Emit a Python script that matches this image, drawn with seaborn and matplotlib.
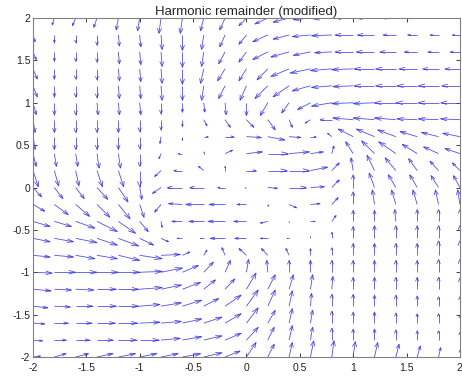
import numpy as np
import matplotlib
matplotlib.use("Agg")
import matplotlib.pyplot as plt
from matplotlib.collections import LineCollection
import seaborn as sns

# grid of arrow tails
x_vals = [-2.0, -1.8, -1.6, -1.4, -1.2, -1.0, -0.8, -0.6, -0.4, -0.2, 0.0,
          0.2, 0.4, 0.6, 0.8, 1.0, 1.2, 1.4, 1.6, 1.8, 2.0]
y_vals = [2.0, 1.8, 1.6, 1.4, 1.2, 1.0, 0.8, 0.6, 0.4, 0.2, 0.0,
          -0.2, -0.4, -0.6, -0.8, -1.0, -1.2, -1.4, -1.6, -1.8, -2.0]

# arrow components (data units), one row per y value, top row first
u_rows = [
    [0, -.02, -.03, -.03, -.02, -.02, -.02, -.02, -.03, -.05, -.07, -.12, -.15, -.16, -.17, -.17, -.17, -.13, -.10, -.08, -.07],
    [.02, 0, 0, 0, .01, .01, .01, 0, -.02, -.05, -.07, -.14, -.15, -.17, -.19, -.17, -.16, -.12, -.09, -.08, -.07],
    [.03, 0, 0, 0, .01, .01, .01, 0, -.02, -.06, -.07, -.14, -.17, -.16, -.16, -.17, -.17, -.15, -.12, -.10, -.09],
    [.04, 0, 0, 0, .01, .01, .01, 0, -.03, -.07, -.07, -.10, -.17, -.19, -.20, -.20, -.19, -.19, -.17, -.15, -.14],
    [.04, 0, 0, 0, .01, .01, .01, 0, -.02, -.06, -.06, -.12, -.15, -.17, -.19, -.19, -.19, -.19, -.19, -.19, -.17],
    [.03, 0, 0, .01, .01, .01, 0, 0, .01, .01, 0, -.07, -.07, -.12, -.19, -.20, -.20, -.20, -.20, -.19, -.18],
    [.02, 0, 0, 0, 0, 0, 0, 0, .03, .05, .07, .07, .03, -.05, -.11, -.19, -.20, -.20, -.19, -.19, -.18],
    [.02, 0, 0, 0, 0, 0, -.01, 0, .04, .08, .14, .16, .11, .05, -.04, -.14, -.17, -.17, -.16, -.16, -.16],
    [.03, .02, .02, .02, .02, 0, -.02, -.04, 0, .07, .15, .19, .19, .12, .02, -.07, -.12, -.16, -.14, -.14, -.14],
    [.05, .04, .03, .05, .05, 0, -.06, -.08, -.05, 0, .09, .18, .19, .16, .07, -.02, -.07, -.10, -.08, -.08, -.07],
    [.08, .08, .08, .10, .09, .02, -.08, -.14, -.13, -.07, -.01, .09, .16, .13, .07, 0, -.05, -.07, -.07, -.07, -.06],
    [.11, .13, .13, .12, .11, .04, -.06, -.13, -.17, -.15, -.09, 0, .07, .09, .06, 0, -.02, -.04, -.04, -.03, -.02],
    [.16, .16, .18, .19, .16, .08, .01, -.10, -.14, -.16, -.12, -.07, 0, .04, .04, 0, 0, -.01, 0, 0, 0],
    [.16, .18, .20, .19, .19, .13, .07, -.05, -.03, -.14, -.11, -.07, -.02, 0, 0, 0, 0, 0, 0, 0, 0],
    [.16, .18, .18, .19, .20, .21, .18, .07, .03, -.03, -.07, -.06, -.03, 0, 0, 0, 0, 0, 0, 0, 0],
    [.18, .20, .20, .20, .20, .21, .20, .15, .09, .05, .02, -.01, 0, 0, 0, 0, 0, 0, 0, 0, 0],
    [.17, .16, .17, .18, .19, .21, .19, .17, .11, .09, .09, .07, .04, .02, .01, 0, 0, 0, 0, 0, 0],
    [.14, .15, .16, .18, .19, .19, .19, .18, .14, .15, .11, .07, .03, .01, 0, 0, 0, 0, 0, 0, 0],
    [.11, .13, .15, .17, .18, .19, .19, .18, .17, .15, .11, .07, .03, .02, 0, 0, 0, 0, 0, 0, 0],
    [.09, .11, .13, .15, .17, .18, .18, .18, .17, .15, .11, .06, .03, .02, 0, 0, 0, 0, 0, 0, 0],
    [.07, .11, .12, .15, .16, .16, .16, .17, .17, .14, .09, .06, .03, .03, .02, .02, .03, .03, .03, .02, 0],
]
v_rows = [
    [-.07, -.08, -.09, -.11, -.14, -.15, -.18, -.18, -.15, -.14, -.09, -.07, -.05, -.02, -.01, 0, 0, 0, 0, 0, 0],
    [-.08, -.09, -.09, -.12, -.13, -.14, -.17, -.18, -.17, -.14, -.11, -.08, -.05, -.02, -.01, 0, 0, 0, 0, 0, 0],
    [-.09, -.11, -.11, -.12, -.14, -.15, -.17, -.18, -.17, -.14, -.12, -.09, -.06, -.04, -.01, 0, 0, 0, 0, 0, 0],
    [-.12, -.12, -.12, -.13, -.14, -.15, -.17, -.18, -.17, -.14, -.14, -.13, -.09, -.05, -.02, -.01, 0, 0, 0, 0, 0],
    [-.13, -.13, -.13, -.14, -.15, -.15, -.17, -.17, -.17, -.15, -.17, -.15, -.13, -.06, -.02, -.01, 0, 0, 0, 0, 0],
    [-.14, -.14, -.14, -.14, -.14, -.14, -.13, -.11, -.11, -.14, -.15, -.15, -.12, -.08, -.04, -.01, -.01, 0, 0, 0, 0],
    [-.15, -.15, -.15, -.15, -.15, -.14, -.12, -.08, -.07, -.09, -.09, -.12, -.09, -.04, 0, .02, .02, .02, .01, .01, .01],
    [-.15, -.15, -.15, -.15, -.15, -.14, -.08, -.04, 0, 0, -.01, -.04, -.01, 0, .04, .09, .09, .08, .06, .05, .04],
    [-.15, -.15, -.15, -.17, -.17, -.15, -.06, 0, .02, .04, .02, 0, .02, .02, .09, .14, .15, .14, .11, .08, .06],
    [-.19, -.18, -.18, -.19, -.19, -.19, -.07, 0, .05, .05, 0, 0, 0, .04, .09, .15, .18, .15, .14, .11, .09],
    [-.11, -.13, -.13, -.14, -.17, -.14, -.07, 0, 0, 0, 0, -.01, 0, .01, .09, .15, .17, .15, .15, .14, .14],
    [-.08, -.12, -.14, -.15, -.17, -.15, -.09, .01, 0, 0, 0, -.02, -.04, .01, .08, .15, .17, .17, .17, .17, .17],
    [-.06, -.06, -.08, -.12, -.14, -.12, -.07, 0, 0, 0, 0, -.02, -.01, 0, .07, .13, .13, .14, .14, .14, .14],
    [-.04, -.04, -.05, -.08, -.09, -.08, -.04, 0, 0, 0, 0, 0, 0, .02, .07, .14, .15, .15, .15, .15, .15],
    [-.02, -.02, -.04, -.04, -.06, -.04, .01, .04, .06, .09, .08, .08, .08, .08, .09, .14, .14, .14, .14, .17, .17],
    [-.01, 0, 0, 0, 0, .01, .05, .08, .12, .14, .15, .14, .14, .14, .14, .14, .14, .14, .14, .15, .15],
    [-.02, -.01, -.01, 0, 0, .02, .05, .08, .11, .12, .19, .17, .17, .17, .15, .14, .14, .14, .14, .14, .13],
    [-.02, -.01, 0, 0, 0, .02, .04, .07, .09, .13, .19, .19, .18, .15, .14, .14, .13, .13, .12, .11, .11],
    [-.01, 0, 0, 0, 0, .01, .02, .05, .07, .11, .18, .15, .17, .15, .14, .13, .13, .12, .11, .11, .09],
    [-.01, 0, 0, 0, 0, 0, .02, .04, .05, .08, .15, .15, .17, .15, .14, .13, .13, .12, .11, .11, .09],
    [.01, .04, .04, .04, .04, .04, .04, .04, .05, .07, .17, .15, .17, .19, .19, .18, .17, .15, .13, .11, .08],
]
ticks = [-2, -1.5, -1, -0.5, 0, 0.5, 1, 1.5, 2]
tick_labels = ["-2", "-1.5", "-1", "-0.5", "0", "0.5", "1", "1.5", "2"]
title = "Harmonic remainder (modified)"

sns.set_theme(style="ticks")
plt.rcParams["font.family"] = ["Liberation Sans", "DejaVu Sans"]
plt.rcParams["axes.unicode_minus"] = False
plt.rcParams["xtick.direction"] = "in"
plt.rcParams["ytick.direction"] = "in"

X, Y = np.meshgrid(x_vals, y_vals)
U = np.array(u_rows)
V = np.array(v_rows)

fig = plt.figure(figsize=(4.62, 3.79), dpi=100)
ax = fig.add_axes([0.0714, 0.058, 0.924, 0.8945])

# matlab-style quiver: shaft plus an open V head, 1/3 of the arrow long
alpha, beta = 0.33, 0.33
tx, ty = X + U, Y + V
tail = np.stack([X, Y], -1).reshape(-1, 2)
tip = np.stack([tx, ty], -1).reshape(-1, 2)
left = np.stack([tx - alpha * (U + beta * V), ty - alpha * (V - beta * U)], -1).reshape(-1, 2)
right = np.stack([tx - alpha * (U - beta * V), ty - alpha * (V + beta * U)], -1).reshape(-1, 2)
keep = (np.hypot(U, V) > 0).ravel()
shafts = np.stack([tail, tip], 1)[keep]
heads = np.stack([left, tip, right], 1)[keep]
arrow_color = "#3232e0"
ax.add_collection(LineCollection(list(shafts) + list(heads), colors=arrow_color,
                                 linewidths=0.6, alpha=0.85))

ax.set_xlim(-2, 2)
ax.set_ylim(-2, 2)
ax.set_xticks(ticks)
ax.set_xticklabels(tick_labels)
ax.set_yticks(ticks)
ax.set_yticklabels(tick_labels)
ax.tick_params(labelsize=7.5, length=3, width=0.6, colors="#222222",
               top=True, right=True, pad=2)
ax.tick_params(axis="x", pad=4)
for s in ax.spines.values():
    s.set_visible(True)
    s.set_color("#808080")
    s.set_linewidth(0.8)
ax.set_title(title, fontsize=9.5, pad=2)

fig.savefig("out.png", dpi=100)
